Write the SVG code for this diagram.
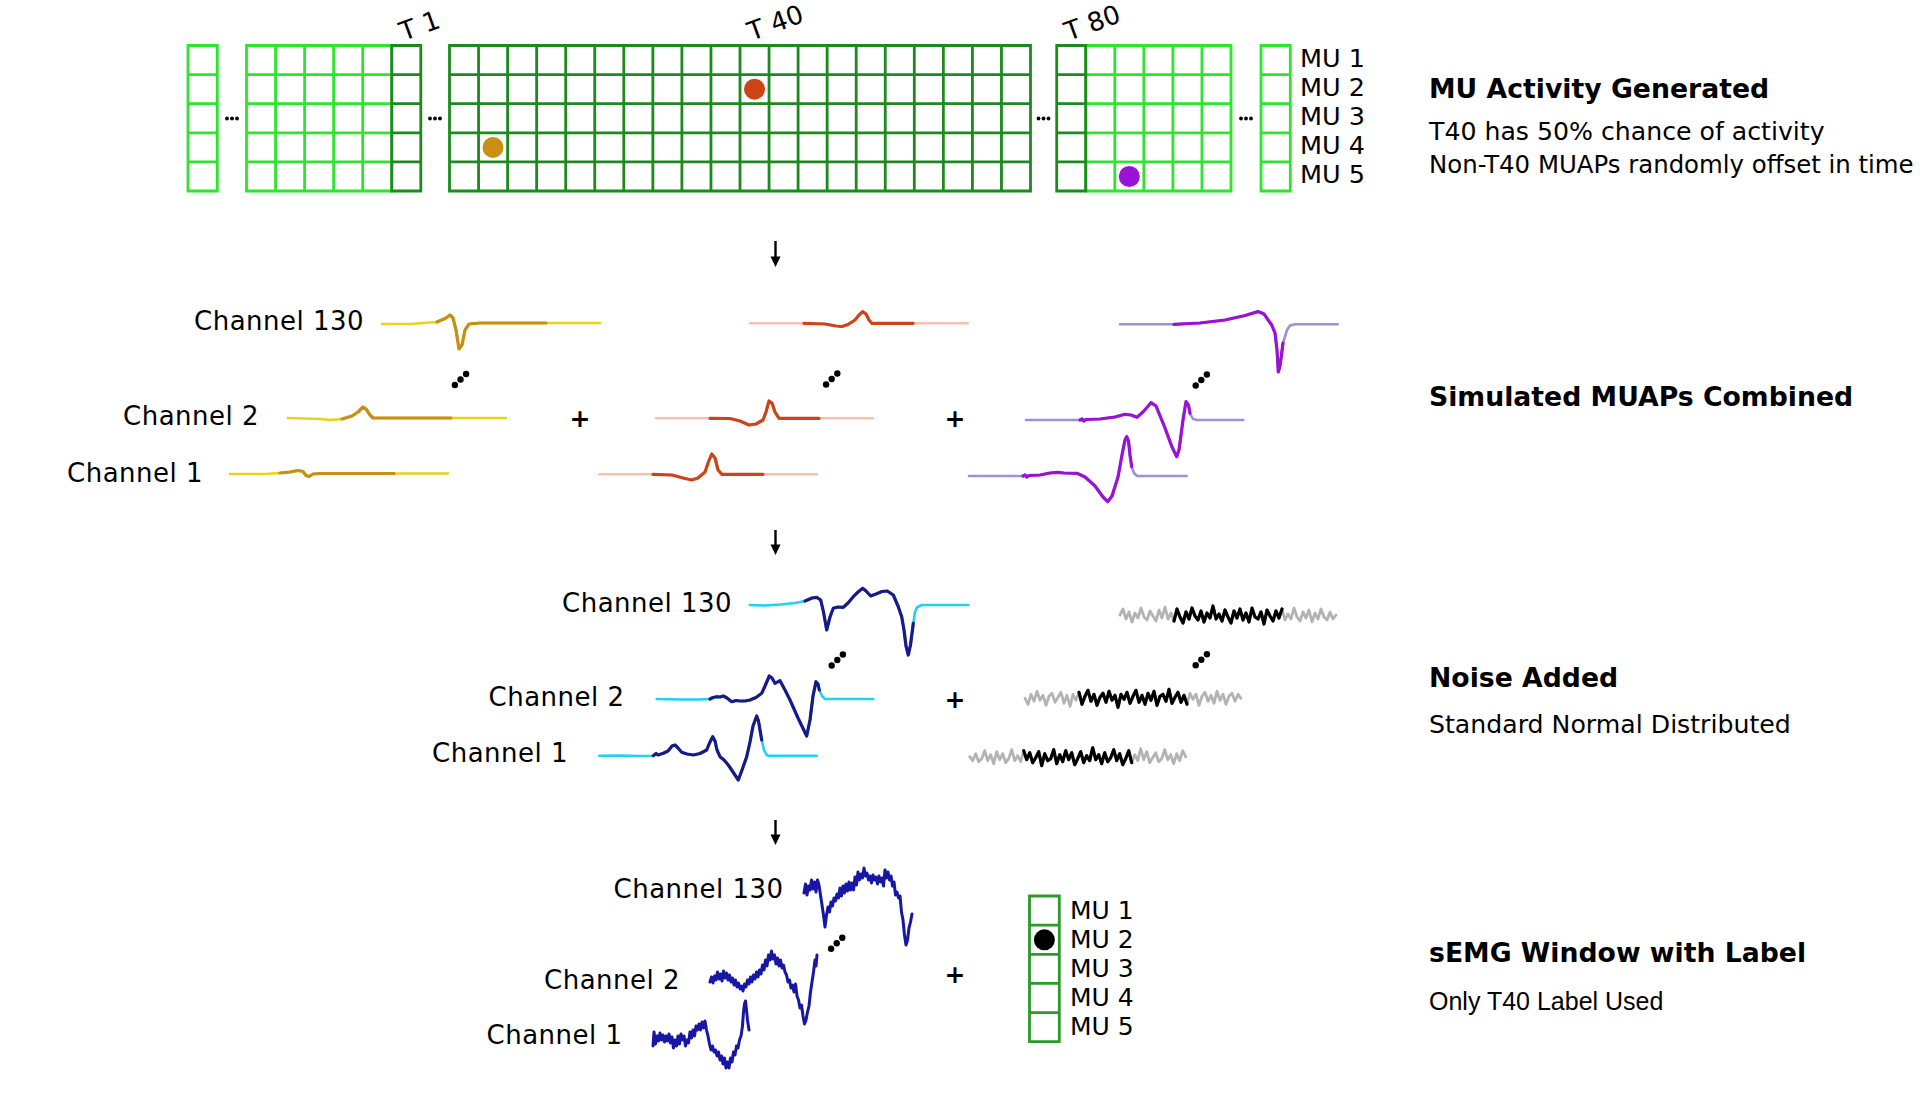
<svg xmlns="http://www.w3.org/2000/svg" width="1920" height="1119" viewBox="0 0 1920 1119">
<style>
text{font-family:"DejaVu Sans","Verdana",sans-serif;fill:#000}
.lbl{font-size:26px;letter-spacing:0.5px}
.tl{font-size:26px}
.mu{font-size:25.5px}
.mu2{font-size:25px}
.hd{font-size:26.7px;font-weight:bold}
.sub{font-size:25.2px}
.subn{font-size:24.4px}
.sub2{font-family:"Liberation Sans",Arial,sans-serif;font-size:25px}
.plus{font-size:25px;font-weight:bold;text-anchor:middle}
.gl{fill:none;stroke:#2fe42f;stroke-width:2.8}
.gd{fill:none;stroke:#1e8a1e;stroke-width:2.8}
.gb{fill:none;stroke:#2a9a2a;stroke-width:2.8}
.tr{fill:none;stroke-linejoin:round;stroke-linecap:round}
.lt{stroke-width:2.6}
.dk{stroke-width:3.2}
.yl{stroke:#e5d41a}.yd{stroke:#c8900f}
.ol{stroke:#f3c3b2}.od{stroke:#cc4519}
.pl{stroke:#9d90d8}.pd{stroke:#9a12d3}
.cl{stroke:#20d2f0}.cd{stroke:#191987}
.nl{stroke:#b3b3b3;stroke-width:2.8}.nd{stroke:#000;stroke-width:3.2}
.fb{stroke:#1717a3;stroke-width:3}
.arr{stroke:#000;stroke-width:2.4}
</style>
<defs>
<path id="noiseG" d="M0,0 L3,-6 6,4 9,-3 12,7 15,-2 18,3 21,-7 24,2 27,5 30,-4 33,1 36,6 39,-5 42,3 45,-8 48,4 51,-2 54,6 57,-6 60,2 63,8 66,-3 69,4 72,-7 75,1 78,5 81,-4 84,7 87,-2 90,3 93,-9 96,4 99,-1 102,6 105,-5 108,2 111,8 114,-4 117,3 120,-6 123,5 126,-2 129,7 132,-7 135,2 138,4 141,-3 144,9 147,-5 150,1 153,6 156,-4 159,3 162,-6 165,5 168,-1 171,4 174,-7 177,2 180,6 183,-3 186,3 189,-5 192,7 195,-2 198,4 201,-6 204,2 207,5 210,-3 213,4 216,0"/>
<path id="noiseB" d="M54,6 L57,-6 60,2 63,8 66,-3 69,4 72,-7 75,1 78,5 81,-4 84,7 87,-2 90,3 93,-9 96,4 99,-1 102,6 105,-5 108,2 111,8 114,-4 117,3 120,-6 123,5 126,-2 129,7 132,-7 135,2 138,4 141,-3 144,9 147,-5 150,1 153,6 156,-4 159,3 162,-6"/>
<g id="vdots"><circle cx="-5.6" cy="5.5" r="3.2"/><circle cx="0" cy="0" r="3.2"/><circle cx="5.6" cy="-5.5" r="3.2"/></g>
<g id="hdots"><circle cx="-5" cy="0" r="1.9"/><circle cx="0" cy="0" r="1.9"/><circle cx="5" cy="0" r="1.9"/></g>
</defs>
<rect width="1920" height="1119" fill="#fff"/>

<g id="mu-activity-grid">
<path class="gl" d="M188,45.5H217.3V191H188Z M188,74.6H217.3M188,103.7H217.3M188,132.8H217.3M188,161.9H217.3"/>
<path class="gl" d="M246.5,45.5H391.75V191H246.5Z M275.55,45.5V191M304.6,45.5V191M333.65,45.5V191M362.7,45.5V191 M246.5,74.6H391.75M246.5,103.7H391.75M246.5,132.8H391.75M246.5,161.9H391.75"/>
<path class="gd" d="M391.75,45.5H420.8V191H391.75Z M391.75,74.6H420.8M391.75,103.7H420.8M391.75,132.8H420.8M391.75,161.9H420.8"/>
<path class="gd" d="M449.5,45.5H1030.5V191H449.5Z M478.55,45.5V191M507.6,45.5V191M536.65,45.5V191M565.7,45.5V191M594.75,45.5V191M623.8,45.5V191M652.85,45.5V191M681.9,45.5V191M710.95,45.5V191M740,45.5V191M769.05,45.5V191M798.1,45.5V191M827.15,45.5V191M856.2,45.5V191M885.25,45.5V191M914.3,45.5V191M943.35,45.5V191M972.4,45.5V191M1001.45,45.5V191 M449.5,74.6H1030.5M449.5,103.7H1030.5M449.5,132.8H1030.5M449.5,161.9H1030.5"/>
<path class="gl" d="M1085.75,45.5H1231V191H1085.75Z M1114.8,45.5V191M1143.85,45.5V191M1172.9,45.5V191M1201.95,45.5V191 M1085.75,74.6H1231M1085.75,103.7H1231M1085.75,132.8H1231M1085.75,161.9H1231"/>
<path class="gd" d="M1056.7,45.5H1085.75V191H1056.7Z M1056.7,74.6H1085.75M1056.7,103.7H1085.75M1056.7,132.8H1085.75M1056.7,161.9H1085.75"/>
<path class="gl" d="M1261,45.5H1290.3V191H1261Z M1261,74.6H1290.3M1261,103.7H1290.3M1261,132.8H1290.3M1261,161.9H1290.3"/>
<circle cx="493" cy="147.4" r="10.5" fill="#c98f12"/>
<circle cx="754.5" cy="89.2" r="10.5" fill="#cc4414"/>
<circle cx="1129.3" cy="176.5" r="10.5" fill="#9a12d6"/>
<use href="#hdots" x="232" y="118.5"/>
<use href="#hdots" x="435" y="118.5"/>
<use href="#hdots" x="1043.5" y="118.5"/>
<use href="#hdots" x="1246" y="118.5"/>
<text class="tl" transform="translate(403.5,41) rotate(-20)">T 1</text>
<text class="tl" transform="translate(751.5,41) rotate(-20)">T 40</text>
<text class="tl" transform="translate(1068.5,41) rotate(-20)">T 80</text>
<text class="mu" x="1300" y="66.5">MU 1</text>
<text class="mu" x="1300" y="95.5">MU 2</text>
<text class="mu" x="1300" y="124.5">MU 3</text>
<text class="mu" x="1300" y="153.5">MU 4</text>
<text class="mu" x="1300" y="182.5">MU 5</text>
</g>

<g id="step-titles">
<text class="hd" x="1429" y="98">MU Activity Generated</text>
<text class="sub" x="1429" y="140">T40 has 50% chance of activity</text>
<text class="subn" x="1429" y="173">Non-T40 MUAPs randomly offset in time</text>
<text class="hd" x="1429" y="406">Simulated MUAPs Combined</text>
<text class="hd" x="1429" y="687">Noise Added</text>
<text class="sub" x="1429" y="733">Standard Normal Distributed</text>
<text class="hd" x="1429" y="962">sEMG Window with Label</text>
<text class="sub2" x="1429" y="1010">Only T40 Label Used</text>
</g>

<g id="simulated-muaps">
<text class="lbl" x="194" y="330">Channel 130</text>
<text class="lbl" x="123" y="425">Channel 2</text>
<text class="lbl" x="67" y="481.5">Channel 1</text>
<path class="tr lt yl" d="M382,324 L410,324 437,322 446,318 450,315 453,318 456,330 459,349 462,345 465,330 469,324 480,323 600,323"/>
<path class="tr dk yd" d="M437,322 L446,318 450,315 453,318 456,330 459,349 462,345 465,330 469,324 480,323 546,323"/>
<path class="tr lt yl" d="M288,418 L320,419 330,420 342,419 352,416 358,412 363,407 366,409 370,415 373,418 451,418 506,418"/>
<path class="tr dk yd" d="M342,419 L352,416 358,412 363,407 366,409 370,415 373,418 451,418"/>
<path class="tr lt yl" d="M230,474 L265,474 280,473 290,472 298,470.5 303,471.5 306,475.5 309,476.5 313,474 320,473.5 448,473.5"/>
<path class="tr dk yd" d="M280,473 L290,472 298,470.5 303,471.5 306,475.5 309,476.5 313,474 320,473.5 394,473.5"/>
<use href="#vdots" x="460.5" y="379.5"/>
<text class="plus" x="580" y="426.5">+</text>
<path class="tr lt ol" d="M750,323.3 L804,323.3 825,324 836,326 842,326.5 848,324.5 855,320 859,315 862.7,311.6 866,314 869,320 872,323.3 913,323.3 967.7,323.3"/>
<path class="tr dk od" d="M804,323.3 L825,324 836,326 842,326.5 848,324.5 855,320 859,315 862.7,311.6 866,314 869,320 872,323.3 913,323.3"/>
<path class="tr lt ol" d="M656,418.3 L710,418.3 730,418.5 740,421 749,425 756,424 763,420 766,412 769,401 772,403 775,412 779,418.3 819,418.3 873,418.3"/>
<path class="tr dk od" d="M710,418.3 L730,418.5 740,421 749,425 756,424 763,420 766,412 769,401 772,403 775,412 779,418.3 819,418.3"/>
<path class="tr lt ol" d="M599,474.3 L653,474.3 672,475 683,478 691.7,480 698,478 705,472 708,463 711.7,454 715,458 718,470 722,474.3 763,474.3 817,474.3"/>
<path class="tr dk od" d="M653,474.3 L672,475 683,478 691.7,480 698,478 705,472 708,463 711.7,454 715,458 718,470 722,474.3 763,474.3"/>
<use href="#vdots" x="831.7" y="379"/>
<text class="plus" x="955" y="426.5">+</text>
<path class="tr lt pl" d="M1120,324.3 L1174,324.3 1200,323 1225,320 1245,315.5 1258,311.6 1264,314 1271.7,325 1275,333 1277,350 1278.3,372 1280,366 1283,343 1287,330 1290,325.5 1295,324.3 1337.7,324.3"/>
<path class="tr dk pd" d="M1174,324.3 L1200,323 1225,320 1245,315.5 1258,311.6 1264,314 1271.7,325 1275,333 1277,350 1278.3,372 1280,366 1283,343"/>
<path class="tr lt pl" d="M1026,420 L1080,420 1082,419 1084,421 1086,419.5 1100,419 1115,417 1125,414.3 1131,415 1137,417.3 1143,412 1151,402.7 1156,406 1165,428 1172,447 1176.7,456.7 1179,450 1183,420 1186,401.7 1188.5,405 1190,413.3 1193,419 1197,420 1243.3,420"/>
<path class="tr dk pd" d="M1080,420 L1082,419 1084,421 1086,419.5 1100,419 1115,417 1125,414.3 1131,415 1137,417.3 1143,412 1151,402.7 1156,406 1165,428 1172,447 1176.7,456.7 1179,450 1183,420 1186,401.7 1188.5,405 1190,413.3"/>
<path class="tr lt pl" d="M969,476 L1023,476 1025,475 1027,477 1029,475.5 1040,475 1050,473 1057,472.3 1064,473 1077,473.3 1085,477 1095,486 1103,497 1107.7,501.7 1112,496 1118,477 1122,455 1125,440 1126.7,436.7 1128.5,441 1130,455 1131.7,466.7 1134,473 1137,476 1186.7,476"/>
<path class="tr dk pd" d="M1023,476 L1025,475 1027,477 1029,475.5 1040,475 1050,473 1057,472.3 1064,473 1077,473.3 1085,477 1095,486 1103,497 1107.7,501.7 1112,496 1118,477 1122,455 1125,440 1126.7,436.7 1128.5,441 1130,455 1131.7,466.7"/>
<use href="#vdots" x="1201.3" y="380"/>
</g>

<g id="combined-signal">
<text class="lbl" x="562" y="611.5">Channel 130</text>
<text class="lbl" x="488.5" y="705.5">Channel 2</text>
<text class="lbl" x="432" y="762">Channel 1</text>
<path class="tr lt cl" d="M750,605 L765,605.5 780,604.5 795,603 805,601 812,598 816.7,597.3 820.7,600 823.5,612 826.7,630 830,617 833.3,608.3 838,607 843.3,607.3 848,603 853.3,596.7 858,592 862.7,588.3 866,591 870.7,596 876,594 882,591.5 887.3,591 893.3,595 898,606 901.7,616.7 904,630 906,646 908.3,655 910.5,645 913.3,623.3 915,612 917,607.3 921.7,605 968.3,605"/>
<path class="tr dk cd" d="M805,601 L812,598 816.7,597.3 820.7,600 823.5,612 826.7,630 830,617 833.3,608.3 838,607 843.3,607.3 848,603 853.3,596.7 858,592 862.7,588.3 866,591 870.7,596 876,594 882,591.5 887.3,591 893.3,595 898,606 901.7,616.7 904,630 906,646 908.3,655 910.5,645 913.3,623.3"/>
<path class="tr lt cl" d="M656.7,699 L680,699.5 700,699.5 710,699 713,697.5 716.7,696.7 720,697 723.3,696 727,698 731.7,701.7 736,700.5 740,701 745,701 750,700 756,697.5 761.7,693.3 765,686 769.3,676 772,678 775,683.3 780,680.7 785,690 790,700 798,718 806.7,736 810,720 813,696 816,681.7 818,684 819.3,690 822,696 825,699 873.3,699"/>
<path class="tr dk cd" d="M710,699 L713,697.5 716.7,696.7 720,697 723.3,696 727,698 731.7,701.7 736,700.5 740,701 745,701 750,700 756,697.5 761.7,693.3 765,686 769.3,676 772,678 775,683.3 780,680.7 785,690 790,700 798,718 806.7,736 810,720 813,696 816,681.7 818,684 819.3,690"/>
<path class="tr lt cl" d="M599.3,755.7 L620,755.5 640,756 653.3,755.7 656,753.5 658,755 663.3,753.3 668,751 672,746 675,745 678,748 681.7,752.3 687,754 693.3,755 700,753.5 706.7,750 709.5,743 712.7,736.7 715,741 717,750 720,756.7 724,760 728.3,765 733,772 738.3,780 742,770 746.7,756.7 750,742 753,726 756.7,716 758.5,721 760,730 761.7,740 764,750 766.7,755 768,755.7 816.7,755.7"/>
<path class="tr dk cd" d="M653.3,755.7 L656,753.5 658,755 663.3,753.3 668,751 672,746 675,745 678,748 681.7,752.3 687,754 693.3,755 700,753.5 706.7,750 709.5,743 712.7,736.7 715,741 717,750 720,756.7 724,760 728.3,765 733,772 738.3,780 742,770 746.7,756.7 750,742 753,726 756.7,716 758.5,721 760,730 761.7,740"/>
<use href="#vdots" x="837.3" y="660"/>
<text class="plus" x="955" y="707.5">+</text>
</g>

<g id="noise">
<g class="tr" transform="translate(1120,615)"><use href="#noiseG" class="nl"/><use href="#noiseB" class="nd"/></g>
<g class="tr" transform="translate(1025,698.3) scale(1,-1)"><use href="#noiseG" class="nl"/><use href="#noiseB" class="nd"/></g>
<g class="tr" transform="translate(1185.7,756.7) scale(-1,1)"><use href="#noiseG" class="nl"/><use href="#noiseB" class="nd"/></g>
<use href="#vdots" x="1201.3" y="659.7"/>
</g>

<g id="semg-window">
<text class="lbl" x="613.5" y="898">Channel 130</text>
<text class="lbl" x="544" y="989">Channel 2</text>
<text class="lbl" x="486.5" y="1043.5">Channel 1</text>
<path class="tr fb" d="M804,893 L805.5,884 807,895 808.5,886 810,890 811.5,880 813,889 814.5,882 816,892 817.5,880 819,885 820.5,895 822,905 823.5,915 825,927 826.5,915 828,907 829.5,912 831,902 832.5,906 834,898 835.5,901 837,894 838.5,898 840,888 841.5,896 843,886 844.5,893 846,884 847.5,891 849,882 850.5,890 852,883 853.5,890 855,877 856.5,885 858,872 859.5,880 861,874 862.5,878 864,868 865.5,876 867,873 868.5,880 870,876 871.5,883 873,875 874.5,880 876,877 877.5,884 879,876 880.5,882 882,878 883.5,886 885,870 886.5,878 888,872 889.5,880 891,876 892.5,886 894,882 895.5,895 897,892 898.5,898 900,896 901.5,912 903,920 904.5,935 906,945 907.5,940 909,928 910.5,922 912,914"/>
<path class="tr fb" d="M710,982 L711.5,977 713,983 714.5,976 716,980 717.5,972 719,979 720.5,974 722,981 723.5,971 725,978 726.5,973 728,980 729.5,975 731,982 732.5,978 734,985 735.5,980 737,987 738.5,983 740,989 741.5,986 743,991 744.5,984 746,987 747.5,980 749,984 750.5,977 752,982 753.5,975 755,979 756.5,972 758,977 759.5,970 761,974 762.5,965 764,970 765.5,960 767,966 768.5,955 770,960 771.5,951 773,959 774.5,955 776,964 777.5,958 779,966 780.5,960 782,968 783.5,965 785,972 786.5,975 788,982 789.5,980 791,988 792.5,985 794,992 795.5,984 797,996 798.5,1000 800,1008 801.5,1005 803,1016 804.5,1024 806,1020 807.5,1012 809,1006 810.5,992 812,982 813.5,972 815,960 816,966 817,955"/>
<path class="tr fb" d="M653,1046 L654,1032 655.5,1044 657,1036 658.5,1041 660,1033 661.5,1040 663,1035 664.5,1042 666,1036 667.5,1041 669,1034 670.5,1043 672,1037 673.5,1048 675,1040 676.5,1046 678,1036 679.5,1044 681,1034 682.5,1040 684,1036 685.5,1046 687,1040 688.5,1043 690,1032 691.5,1038 693,1030 694.5,1036 696,1026 697.5,1030 699,1024 700.5,1030 702,1022 703.5,1028 705,1021 706.5,1030 708,1036 709.5,1044 711,1050 712.5,1046 714,1052 715.5,1050 717,1056 718.5,1052 720,1060 721.5,1056 723,1064 724.5,1058 726,1068 727.5,1062 729,1068 730.5,1058 732,1062 733.5,1052 735,1055 736.5,1046 738,1048 739.5,1040 741,1036 742.5,1026 743.5,1012 744.5,1004 745.5,1001 746.5,1010 747.5,1020 749,1030"/>
<use href="#vdots" x="836.7" y="943.3"/>
<text class="plus" x="955" y="983">+</text>
</g>

<g id="t40-label">
<path class="gb" d="M1029.5,896H1059.3V1041.7H1029.5Z M1029.5,925.1H1059.3M1029.5,954.3H1059.3M1029.5,983.4H1059.3M1029.5,1012.6H1059.3"/>
<circle cx="1044.4" cy="939.8" r="10.5" fill="#000"/>
<text class="mu2" x="1070" y="918.5">MU 1</text>
<text class="mu2" x="1070" y="947.5">MU 2</text>
<text class="mu2" x="1070" y="976.5">MU 3</text>
<text class="mu2" x="1070" y="1005.5">MU 4</text>
<text class="mu2" x="1070" y="1034.5">MU 5</text>
</g>

<g id="connectors">
<path class="arr" d="M775.5,241V258"/><path d="M770.5,256.5H780.5L775.5,267Z"/>
<path class="arr" d="M775.5,530V546"/><path d="M770.5,544.5H780.5L775.5,555Z"/>
<path class="arr" d="M775.5,820V836"/><path d="M770.5,834.5H780.5L775.5,845Z"/>
</g>
</svg>
